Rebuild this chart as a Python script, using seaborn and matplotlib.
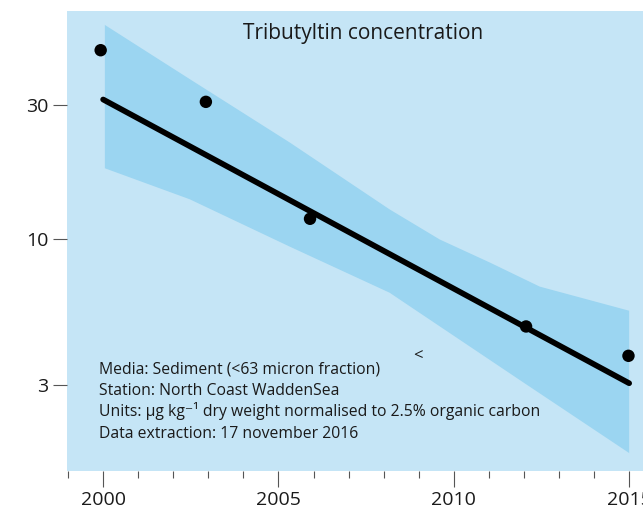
import matplotlib
matplotlib.use("Agg")
import matplotlib.pyplot as plt
import seaborn as sns
from matplotlib.ticker import FixedLocator, NullLocator, MultipleLocator

# Measured tributyltin concentrations (µg/kg dw, 2.5% OC), by sampling date
years = [1999.93, 2002.93, 2005.90, 2012.06, 2014.98]
tbt = [46.9, 30.7, 11.76, 4.86, 3.82]

# Fitted log-linear trend
trend_years = [2000, 2015]
trend_values = [31.3, 3.05]

# Confidence band around the trend
upper_years = [2000.05, 2002.47, 2005.32, 2008.17, 2009.60, 2011.03, 2012.45, 2015.0]
band_upper = [57.7, 37.0, 22.0, 12.7, 9.92, 8.21, 6.74, 5.53]
lower_years = [2000.05, 2002.47, 2005.32, 2008.17, 2008.46, 2012.0, 2015.0]
band_lower = [17.8, 13.8, 9.36, 6.41, 6.06, 3.06, 1.72]

# Marker shown for the "less than" flag
flag_year = [2008.97]
flag_value = [3.82]
flag_text = "<"

y_ticks = [3, 10, 30]
y_tick_labels = ["3", "10", "30"]
x_major = [2000, 2005, 2010, 2015]
x_tick_labels = ["2000", "2005", "2010", "2015"]

title = "Tributyltin concentration"
notes = [
    "Media: Sediment (<63 micron fraction)",
    "Station: North Coast WaddenSea",
    "Units: µg kg\u207b\u00b9 dry weight normalised to 2.5% organic carbon",
    "Data extraction: 17 november 2016",
]

PANEL = "#c5e5f6"
BAND = "#9bd5f1"
INK = "#1a1a1a"
TICK = "#555555"

sns.set_style("white")
plt.rcParams["font.family"] = ["Open Sans", "DejaVu Sans"]

W, H = 643, 508
fig = plt.figure(figsize=(W / 100, H / 100), dpi=100)

x0, x1 = 1998.97, 2015.8
px_per_year = 35.07
left_px, top_px, bottom_px = 67, 11, 470.7
ax = fig.add_axes([left_px / W, 1 - bottom_px / H,
                   (x1 - x0) * px_per_year / W, (bottom_px - top_px) / H])
ax.set_facecolor(PANEL)
for s in ax.spines.values():
    s.set_visible(False)

# band polygon: upper edge left to right, lower edge right to left
poly_x = upper_years + lower_years[::-1]
poly_y = band_upper + band_lower[::-1]
ax.fill(poly_x, poly_y, color=BAND, lw=0, zorder=1)

sns.lineplot(x=trend_years, y=trend_values, ax=ax, color="black", lw=4.1,
             solid_capstyle="round", zorder=3)
sns.scatterplot(x=years, y=tbt, ax=ax, color="black", s=80, edgecolor="none",
                zorder=4)
for fx, fy in zip(flag_year, flag_value):
    ax.text(fx, fy, flag_text, ha="center", va="center", fontsize=12, color=INK)

ax.set_yscale("log")
ax.set_xlim(x0, x1)
ax.set_ylim(1.488, 64.7)

ax.yaxis.set_major_locator(FixedLocator(y_ticks))
ax.yaxis.set_minor_locator(NullLocator())
ax.set_yticklabels(y_tick_labels)
ax.set_xticks(x_major)
ax.set_xticklabels(x_tick_labels)
ax.xaxis.set_minor_locator(MultipleLocator(1))

ax.tick_params(axis="y", which="major", left=True, length=10, width=0.8,
               color=TICK, pad=3.5, labelsize=14, labelcolor=INK)
ax.tick_params(axis="x", which="major", bottom=True, length=11.5, width=0.8,
               color=TICK, pad=3.2, labelsize=14, labelcolor=INK)
ax.tick_params(axis="x", which="minor", bottom=True, length=5, width=0.8,
               color=TICK)
ax.set_xlabel("")
ax.set_ylabel("")
ax.grid(False)

fig.text(363.3 / W, 1 - 39.3 / H, title, ha="center", va="baseline",
         fontsize=15, color=INK)
for i, line in enumerate(notes):
    fig.text(99.3 / W, 1 - (373.3 + 21.5 * i) / H, line, ha="left",
             va="baseline", fontsize=11.3, color=INK)

fig.savefig("out.png", dpi=100, facecolor="white")
